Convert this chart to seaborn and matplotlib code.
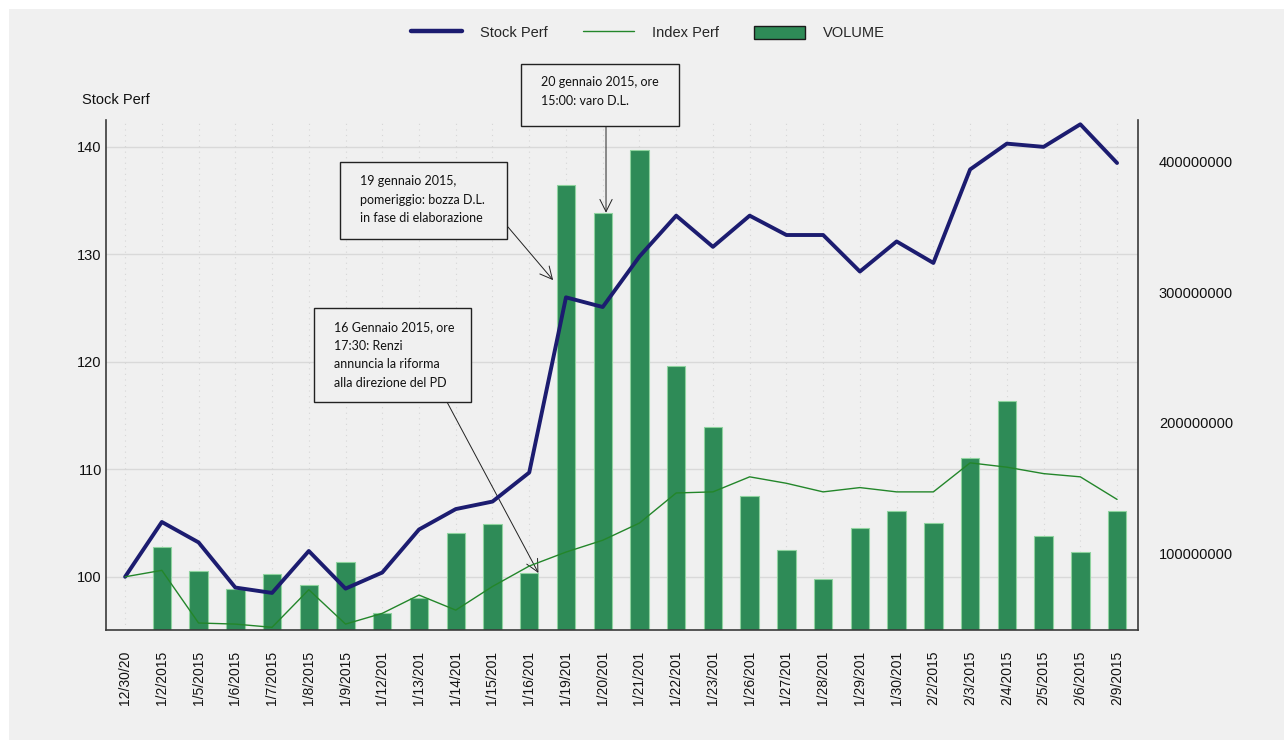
import numpy as np
import pandas as pd
import matplotlib
matplotlib.use("Agg")
import matplotlib.pyplot as plt
import seaborn as sns
from matplotlib.lines import Line2D
from matplotlib.patches import Patch, Rectangle
from matplotlib.transforms import blended_transform_factory

# ---------------- data ----------------
dates = ["12/30/20", "1/2/2015", "1/5/2015", "1/6/2015", "1/7/2015", "1/8/2015",
         "1/9/2015", "1/12/201", "1/13/201", "1/14/201", "1/15/201", "1/16/201",
         "1/19/201", "1/20/201", "1/21/201", "1/22/201", "1/23/201", "1/26/201",
         "1/27/201", "1/28/201", "1/29/201", "1/30/201", "2/2/2015", "2/3/2015",
         "2/4/2015", "2/5/2015", "2/6/2015", "2/9/2015"]
stock_perf = [100.0, 105.1, 103.2, 99.0, 98.5, 102.4, 98.9, 100.4, 104.4, 106.3,
              107.0, 109.7, 126.0, 125.1, 129.8, 133.6, 130.7, 133.6, 131.8, 131.8,
              128.4, 131.2, 129.2, 137.9, 140.3, 140.0, 142.1, 138.5]
index_perf = [100.0, 100.6, 95.7, 95.6, 95.3, 98.8, 95.6, 96.6, 98.3, 96.9,
              99.1, 101.0, 102.3, 103.4, 105.0, 107.8, 107.9, 109.3, 108.7, 107.9,
              108.3, 107.9, 107.9, 110.6, 110.2, 109.6, 109.3, 107.2]
volume = [0, 104.6e6, 86.2e6, 72.4e6, 83.9e6, 75.4e6, 93.1e6, 54.0e6, 65.5e6, 115.3e6,
          122.3e6, 84.7e6, 382.4e6, 360.9e6, 409.3e6, 243.5e6, 196.7e6, 143.7e6,
          102.3e6, 80.0e6, 119.2e6, 132.2e6, 123.0e6, 172.9e6, 216.7e6, 113.0e6,
          100.8e6, 132.2e6]
left_ticks = [100, 110, 120, 130, 140]
right_ticks = [100000000, 200000000, 300000000, 400000000]

df = pd.DataFrame({"date": dates, "pos": np.arange(len(dates)),
                   "stock": stock_perf, "index": index_perf, "volume": volume})

# ---------------- style ----------------
sns.set_theme(style="white")
plt.rcParams["font.family"] = ["Liberation Sans", "DejaVu Sans"]
BG = "#F0F0F0"
STOCK_C = "#1C1C70"
INDEX_C = "#23862A"
BAR_C = "#2E8B57"

W, H = 1284, 740
fig = plt.figure(figsize=(W / 100, H / 100), dpi=100, facecolor="white")
fig.add_artist(Rectangle((9 / W, 0), 1, 1 - 9 / H, transform=fig.transFigure,
                         facecolor=BG, edgecolor="none", zorder=-10))

x0, x1, ytop, ybot = 106, 1138, 120, 630
ax_b = fig.add_axes([x0 / W, 1 - ybot / H, (x1 - x0) / W, (ybot - ytop) / H])
ax_b.set_facecolor(BG)
ax_l = ax_b.twinx()

# volume bars (right axis)
sns.barplot(data=df, x="date", y="volume", ax=ax_b, color=BAR_C, saturation=1,
            width=0.5, edgecolor="#8FD39F", linewidth=0.8, zorder=2)

# performance lines (left axis)
sns.lineplot(data=df, x="pos", y="stock", ax=ax_l, color=STOCK_C, linewidth=2.8,
             zorder=3)
sns.lineplot(data=df, x="pos", y="index", ax=ax_l, color=INDEX_C, linewidth=1.0,
             zorder=3)

ax_l.set_zorder(ax_b.get_zorder() + 1)
ax_l.patch.set_visible(False)

ax_l.set_ylim(95.05, 142.5)
ax_b.set_ylim(41e6, 432e6)
ax_b.set_xlim(-0.52, len(dates) - 1 + 0.57)

# left axis ticks
ax_l.yaxis.tick_left()
ax_l.set_yticks(left_ticks)
ax_l.set_yticklabels([str(v) for v in left_ticks])
ax_l.tick_params(axis="y", length=0, pad=3, labelsize=10.5, colors="#111111")
ax_l.set_ylabel("")
ax_l.set_xlabel("")
for s in ax_l.spines.values():
    s.set_visible(False)

# right axis ticks
ax_b.yaxis.tick_right()
ax_b.set_yticks(right_ticks)
ax_b.set_yticklabels([str(v) for v in right_ticks])
ax_b.tick_params(axis="y", length=0, pad=15, labelsize=10.5, colors="#111111")
ax_b.set_ylabel("")
ax_b.set_xlabel("")

# x ticks
ax_b.set_xticks(np.arange(len(dates)))
ax_b.set_xticklabels(dates, rotation=90, va="top", ha="center")
ax_b.tick_params(axis="x", length=0, pad=15, labelsize=10, colors="#111111")
ax_l.tick_params(axis="x", length=0, labelbottom=False)

for side in ["left", "right", "bottom"]:
    ax_b.spines[side].set_visible(True)
    ax_b.spines[side].set_color("#3A3A3A")
    ax_b.spines[side].set_linewidth(1.2)
ax_b.spines["top"].set_visible(False)

# grids behind the bars
ax_b.grid(axis="x", linestyle=(0, (1, 4)), color="#D6D6D6", linewidth=0.8, zorder=0)
ax_b.grid(axis="y", visible=False)
ax_b.set_axisbelow(True)
tr = blended_transform_factory(ax_b.transAxes, ax_l.transData)
for v in left_ticks:
    ax_b.plot([0, 1], [v, v], transform=tr, color="#D9D9D9", linewidth=1.0, zorder=0.5)

# axis title
fig.text(82 / W, 1 - 100 / H, "Stock Perf", ha="left", va="center", fontsize=10.5,
         color="#111111")

# legend
handles = [Line2D([], [], color=STOCK_C, linewidth=3.2),
           Line2D([], [], color=INDEX_C, linewidth=1.0),
           Patch(facecolor=BAR_C, edgecolor="#1A1A1A", linewidth=1.0)]
fig.legend(handles, ["Stock Perf", "Index Perf", "VOLUME"], loc="center",
           bbox_to_anchor=(648 / W, 1 - 33 / H), ncol=3, frameon=False,
           fontsize=10.5, handlelength=3.5, handleheight=1.0, handletextpad=1.25,
           columnspacing=2.4)

# annotations (boxes in figure pixels, arrows pointing to data)
ann_font = ["Lato", "DejaVu Sans"]
boxes = [
    ((521, 64, 679, 126), 541, 82, ["20 gennaio 2015, ore", "15:00: varo D.L."]),
    ((340, 162, 507, 239), 360, 181, ["19 gennaio 2015,", "pomeriggio: bozza D.L.",
                                      "in fase di elaborazione"]),
    ((314, 308, 471, 402), 334, 327, ["16 Gennaio 2015, ore", "17:30: Renzi",
                                      "annuncia la riforma", "alla direzione del PD"]),
]
for (bx0, by0, bx1, by1), tx, ty, lines in boxes:
    fig.add_artist(Rectangle((bx0 / W, 1 - by1 / H), (bx1 - bx0) / W, (by1 - by0) / H,
                             transform=fig.transFigure, facecolor=BG,
                             edgecolor="#222222", linewidth=1.0, zorder=5))
    for i, ln in enumerate(lines):
        fig.text(tx / W, 1 - (ty + i * 18.7) / H, ln, ha="left", va="center",
                 fontsize=9, family=ann_font, color="#111111", zorder=6)

arrow = dict(arrowstyle="->", color="#222222", lw=0.7, mutation_scale=22,
             shrinkA=0, shrinkB=0)
ax_b.annotate("", xy=(13.09, volume[13]), xycoords="data",
              xytext=(606, H - 126), textcoords="figure pixels", arrowprops=arrow,
              annotation_clip=False)
ax_l.annotate("", xy=(11.65, 127.6), xycoords="data",
              xytext=(508, H - 227), textcoords="figure pixels", arrowprops=arrow,
              annotation_clip=False)
ax_b.annotate("", xy=(11.25, volume[11]), xycoords="data",
              xytext=(447, H - 402), textcoords="figure pixels", arrowprops=arrow,
              annotation_clip=False)

fig.savefig("out.png", dpi=100, facecolor=fig.get_facecolor())
